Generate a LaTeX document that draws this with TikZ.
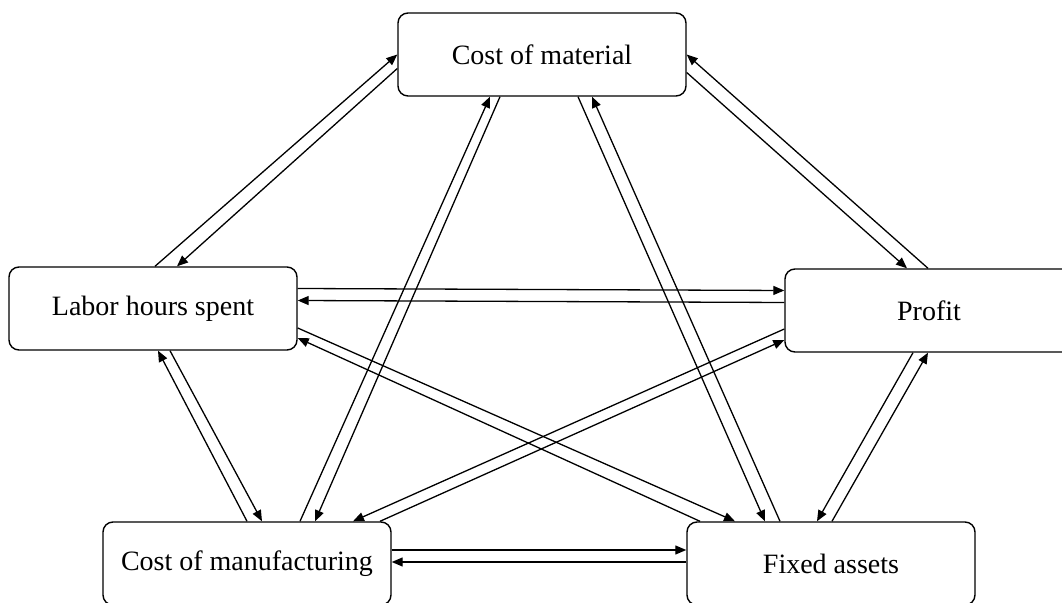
\documentclass[tikz,border=0pt]{standalone}
\usepackage{fontspec}
\setmainfont{Liberation Serif}
\usetikzlibrary{positioning,calc,arrows.meta}

\begin{document}
\begin{tikzpicture}[x=0.5pt, y=-0.5pt,
    box/.style={draw, rectangle, rounded corners=5pt, line width=0.7pt, minimum width=144pt, minimum height=41.5pt, inner sep=0pt, font=\fontsize{14}{17}\selectfont},
    link/.style={-{Triangle[length=5.5pt,width=4.5pt]}, line width=0.65pt}]

    \useasboundingbox (0,0) rectangle (1062,603);

    % Boxes
    \node (mat) [box] at (542,54.5) {Cost of material};
    \node (lab) [box] at (153,308.5) {Labor hours spent};
    \node (prof) [box] at (929,310.5) {Profit};
    \node (manuf) [box] at (247,563.5) {Cost of manufacturing};
    \node (fixed) [box] at (831,563.5) {Fixed assets};

    % Labor <-> Material
    \draw[link] ($(lab.north)+(2,0)$) -- (mat.west);
    \draw[link] ($(mat.west)+(0,14)$) -- ($(lab.north)+(24,0)$);

    % Manufacturing <-> Material
    \draw[link] ($(manuf.north)+(53,0)$) -- ($(mat.south)+(-52,0)$);
    \draw[link] ($(mat.south)+(-42,0)$) -- ($(manuf.north)+(68,0)$);

    % Material <-> Fixed
    \draw[link] ($(mat.south)+(36,0)$) -- ($(fixed.north)+(-66,0)$);
    \draw[link] ($(fixed.north)+(-51,0)$) -- ($(mat.south)+(50,0)$);

    % Material <-> Profit
    \draw[link] ($(prof.north)+(-1,0)$) -- (mat.east);
    \draw[link] ($(mat.east)+(0,18)$) -- ($(prof.north)+(-22,0)$);

    % Labor <-> Profit
    \draw[link] ($(lab.east)+(0,-20)$) -- ($(prof.west)+(0,-20)$);
    \draw[link] ($(prof.west)+(0,-8)$) -- ($(lab.east)+(0,-8)$);

    % Labor <-> Fixed
    \draw[link] ($(lab.east)+(0,19.5)$) -- ($(fixed.north)+(-96,0)$);
    \draw[link] ($(fixed.north)+(-131,0)$) -- ($(lab.east)+(0,29.5)$);

    % Profit <-> Manufacturing
    \draw[link] ($(prof.west)+(0,18.5)$) -- ($(manuf.north)+(106,0)$);
    \draw[link] ($(manuf.north)+(133,0)$) -- ($(prof.west)+(0,29.5)$);

    % Labor <-> Manufacturing
    \draw[link] ($(lab.south)+(17,0)$) -- ($(manuf.north)+(15,0)$);
    \draw[link] (manuf.north) -- ($(lab.south)+(5,0)$);

    % Profit <-> Fixed
    \draw[link] ($(prof.south)+(-16,0)$) -- ($(fixed.north)+(-14,0)$);
    \draw[link] ($(fixed.north)+(1,0)$) -- ($(prof.south)+(-1,0)$);

    % Manufacturing <-> Fixed
    \draw[link] ($(manuf.east)+(0,-13.5)$) -- ($(fixed.west)+(0,-13.5)$);
    \draw[link] ($(fixed.west)+(0,-1.5)$) -- ($(manuf.east)+(0,-1.5)$);

\end{tikzpicture}
\end{document}
